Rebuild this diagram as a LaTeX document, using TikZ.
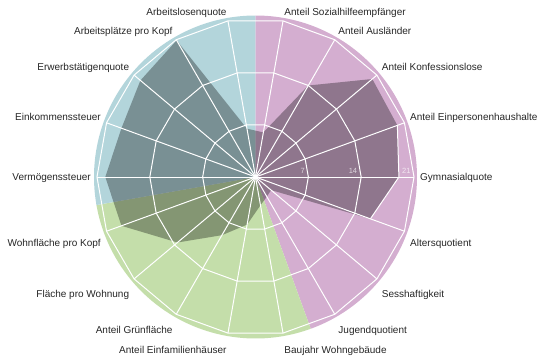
\documentclass[tikz,border=0pt]{standalone}
\usepackage{fontspec}
\setmainfont{Liberation Sans}
\definecolor{bluebg}{RGB}{179,213,219}
\definecolor{pinkbg}{RGB}{212,174,208}
\definecolor{greenbg}{RGB}{196,222,170}
\begin{document}
\begin{tikzpicture}[x=1pt,y=1pt,
  gridline/.style={draw=white, line width=1pt, line join=round},
  dataarea/.style={fill=black, fill opacity=0.32},
  axislabel/.style={font=\fontsize{10}{12}\selectfont, text=black!85, inner sep=0pt, text height=7.2pt, text depth=2.1pt},
  ticklabel/.style={font=\fontsize{7.5}{9}\selectfont, text=white, text opacity=0.7, inner sep=0pt, anchor=south east}]
\def\U{7.548}
\def\Rbg{161.5}
\useasboundingbox (-255.5,-183) rectangle (285.5,177);
\coordinate (c) at (0,0);
% background sectors
\fill[pinkbg] (c) -- (90:\Rbg pt) arc[start angle=90, end angle=-70, radius=\Rbg pt] -- cycle;
\fill[greenbg] (c) -- (-70:\Rbg pt) arc[start angle=-70, end angle=-170, radius=\Rbg pt] -- cycle;
\fill[bluebg] (c) -- (190:\Rbg pt) arc[start angle=190, end angle=90, radius=\Rbg pt] -- cycle;
% data area
\fill[dataarea] (80:{6*\U pt}) \foreach \a/\v in {60/14,40/20.2,20/20,0/19,-20/16.2,-40/2.7,-60/3,-80/3.8,-100/6.4,-120/8.9,-140/13.5,-160/18.9,-180/19.9,-200/18.9,-220/19.9,-240/20.9,-260/6.5} { -- ({\a}:{\v*\U pt}) } -- cycle;
% rings
\foreach \r in {7,14,21} {
  \draw[gridline] (80:{\r*\U pt}) \foreach \a in {60,40,...,-260} { -- ({\a}:{\r*\U pt}) } -- cycle;
}
% spokes
\foreach \a [count=\i] in {80,60,...,-260} {
  \coordinate (e\i) at ({\a}:{21*\U pt});
  \draw[gridline] (c) -- (e\i);
}
% highlighted data edges
\coordinate (d20) at (20:{20*\U pt});
\coordinate (d0) at (0:{19*\U pt});
\coordinate (dm20) at (-20:{16.2*\U pt});
\draw[gridline] (d20) -- (d0) -- (dm20);
\fill[white] (c) circle[radius=1.8pt];
% tick labels
\node[ticklabel] (t7) at (49.5,3.3) {7};
\node[ticklabel] (t14) at (101.8,3.3) {14};
\node[ticklabel] (t21) at (155.2,3.3) {21};
% axis labels right
\node[axislabel, anchor=west] (l1) at (28.8,164.5) {Anteil Sozialhilfeempfänger};
\node[axislabel, anchor=west] (l2) at (82.8,145.5) {Anteil Ausländer};
\node[axislabel, anchor=west] (l3) at (126.2,109.5) {Anteil Konfessionslose};
\node[axislabel, anchor=west] (l4) at (154.5,59.5) {Anteil Einpersonenhaushalte};
\node[axislabel, anchor=west] (l5) at (164.5,-1) {Gymnasialquote};
\node[axislabel, anchor=west] (l6) at (154.5,-67) {Altersquotient};
\node[axislabel, anchor=west] (l7) at (126.2,-117.5) {Sesshaftigkeit};
\node[axislabel, anchor=west] (l8) at (82.8,-153.5) {Jugendquotient};
\node[axislabel, anchor=west] (l9) at (28.8,-173.5) {Baujahr Wohngebäude};
% axis labels left
\node[axislabel, anchor=east] (l10) at (-28.8,-173.5) {Anteil Einfamilienhäuser};
\node[axislabel, anchor=east] (l11) at (-82.8,-153.5) {Anteil Grünfläche};
\node[axislabel, anchor=east] (l12) at (-126.2,-117.5) {Fläche pro Wohnung};
\node[axislabel, anchor=east] (l13) at (-154.5,-67) {Wohnfläche pro Kopf};
\node[axislabel, anchor=east] (l14) at (-164.5,-1) {Vermögenssteuer};
\node[axislabel, anchor=east] (l15) at (-154.5,59.5) {Einkommenssteuer};
\node[axislabel, anchor=east] (l16) at (-126.2,109.5) {Erwerbstätigenquote};
\node[axislabel, anchor=east] (l17) at (-82.8,145.5) {Arbeitsplätze pro Kopf};
\node[axislabel, anchor=east] (l18) at (-28.8,164.5) {Arbeitslosenquote};
\end{tikzpicture}
\end{document}
